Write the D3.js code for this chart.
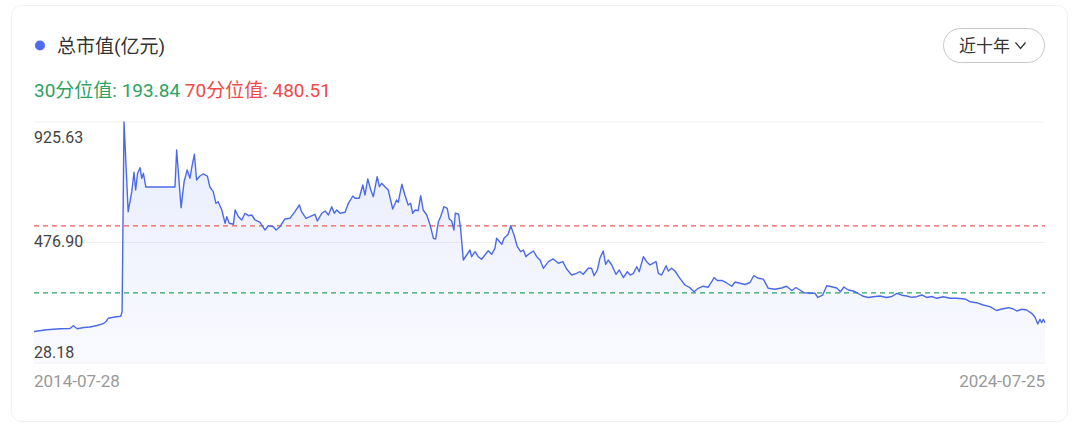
<!DOCTYPE html>
<html>
<head>
<meta charset="utf-8">
<script src="https://cdn.jsdelivr.net/npm/d3@7/dist/d3.min.js"></script>
<style>
  html, body { margin: 0; padding: 0; background: #ffffff; }
  svg { display: block; }
</style>
</head>
<body>
<svg id="chart" width="1080" height="430"></svg>
<script>
// ---------- data ----------
const dates = [
"2014-07-28","2014-09-12","2014-10-30","2014-12-05","2014-12-17","2014-12-31","2015-01-24","2015-02-15","2015-03-12","2015-04-04",
"2015-04-14","2015-04-22","2015-05-16","2015-06-06","2015-06-11","2015-06-18","2015-07-03","2015-07-16","2015-07-24","2015-07-30",
"2015-08-06","2015-08-15","2015-08-21","2015-08-27","2015-09-05","2015-12-19","2015-12-25","2016-01-10","2016-01-21","2016-02-01",
"2016-02-11","2016-02-17","2016-02-27","2016-03-06","2016-03-18","2016-03-30","2016-04-14","2016-04-23","2016-05-05","2016-05-15",
"2016-05-23","2016-06-05","2016-06-17","2016-06-23","2016-07-02","2016-07-17","2016-07-23","2016-08-04","2016-08-16","2016-08-28",
"2016-09-09","2016-09-21","2016-10-03","2016-10-21","2016-11-08","2016-11-20","2016-12-08","2016-12-18","2017-01-01","2017-01-19",
"2017-02-06","2017-02-24","2017-03-12","2017-03-20","2017-04-05","2017-04-19","2017-05-07","2017-05-16","2017-06-01","2017-06-13",
"2017-06-25","2017-07-07","2017-07-16","2017-07-25","2017-08-06","2017-08-24","2017-09-05","2017-09-21","2017-09-29","2017-10-14",
"2017-10-27","2017-11-04","2017-11-14","2017-11-25","2017-12-04","2017-12-18","2017-12-26","2018-01-03","2018-01-15","2018-01-27",
"2018-02-12","2018-02-26","2018-03-04","2018-03-17","2018-03-28","2018-04-09","2018-04-18","2018-04-25","2018-05-04","2018-05-15",
"2018-05-24","2018-06-02","2018-06-15","2018-06-27","2018-07-09","2018-07-17","2018-07-27","2018-08-04","2018-08-16","2018-08-28",
"2018-09-04","2018-09-13","2018-09-21","2018-09-26","2018-10-08","2018-10-15","2018-10-25","2018-11-06","2018-11-18","2018-11-24",
"2018-12-06","2018-12-18","2018-12-30","2019-01-11","2019-01-23","2019-02-04","2019-02-16","2019-02-22","2019-03-13","2019-03-21",
"2019-04-05","2019-04-14","2019-04-26","2019-05-08","2019-05-20","2019-05-30","2019-06-08","2019-06-17","2019-07-05","2019-07-17",
"2019-07-29","2019-08-10","2019-08-28","2019-09-15","2019-10-03","2019-10-19","2019-11-02","2019-11-20","2019-12-08","2019-12-20",
"2020-01-01","2020-01-19","2020-01-31","2020-02-09","2020-02-21","2020-03-01","2020-03-13","2020-03-22","2020-03-31","2020-04-13",
"2020-04-28","2020-05-10","2020-05-25","2020-06-08","2020-06-18","2020-06-30","2020-07-12","2020-07-21","2020-08-05","2020-08-17",
"2020-08-29","2020-09-08","2020-09-20","2020-09-28","2020-10-10","2020-10-26","2020-11-03","2020-11-15","2020-11-27","2020-12-15",
"2021-01-02","2021-01-20","2021-02-04","2021-02-19","2021-03-09","2021-03-27","2021-04-09","2021-04-17","2021-04-29","2021-05-15",
"2021-06-02","2021-06-20","2021-07-02","2021-07-20","2021-08-07","2021-08-25","2021-09-08","2021-09-24","2021-10-12","2021-10-30",
"2021-11-23","2021-12-17","2022-01-04","2022-01-23","2022-02-07","2022-02-21","2022-03-08","2022-03-30","2022-04-17","2022-04-27",
"2022-05-14","2022-05-29","2022-06-16","2022-07-04","2022-07-18","2022-07-30","2022-08-15","2022-09-02","2022-09-20","2022-10-08",
"2022-10-26","2022-11-13","2022-12-07","2022-12-31","2023-01-19","2023-02-06","2023-02-24","2023-03-14","2023-04-01","2023-04-19",
"2023-05-07","2023-05-25","2023-06-12","2023-06-30","2023-07-24","2023-08-17","2023-09-10","2023-10-10","2023-10-28","2023-11-21",
"2023-12-15","2024-01-08","2024-02-01","2024-02-20","2024-03-15","2024-04-02","2024-04-14","2024-05-02","2024-05-20","2024-06-07",
"2024-06-19","2024-06-29","2024-07-07","2024-07-13","2024-07-19","2024-07-25"
];
const marketCap = [
28.18,36,40,41,53,40.5,45.6,47.8,54.2,61.9,
71.3,85,90.6,93.6,113.3,925.63,541.5,627.2,710.2,634.4,
706,729.9,684.5,706,647,647,805.7,558.6,670,720.1,
684.5,727.4,787.3,677.3,694.4,703,694,647.3,627.2,577.5,
584.3,548.8,491.8,520.1,491.8,487.6,548.8,520.1,506,534.7,
524.4,527.4,506,496.1,463.1,481.6,477.3,463.1,477.3,510.3,
513.2,541.5,570.2,541.5,513.2,520.1,530.4,501.7,534.7,544.5,
527.4,562.9,534.7,548.8,534.7,538.9,577.5,608.7,598.9,598.9,
655.8,613,681.5,634.4,605.8,691.4,648.6,663.1,648.6,634.4,
553.1,591.6,581.8,658.9,613,570.2,577.5,534.7,548.8,545.8,
610,548.8,527.4,484.6,427.6,424.6,498.7,520.1,562.9,556.1,
510.3,501.7,463.1,534.7,530.4,470.4,334.7,356.1,377.5,348.8,
370.2,348.8,337.7,356.1,374.5,359.1,384.8,427.6,401.9,427.6,
444.7,481.6,441.7,391.6,370.2,377.5,348.8,359.1,373.2,348.8,
334.7,299.1,327.4,339,320.6,327.4,296.1,270.4,277.7,284.6,
273.4,299.1,299.1,267.4,291.9,342,373.2,316.3,334.7,313.3,
273.4,291.9,258.9,284.6,270.4,277.7,306,284.6,348.8,327.4,
313.3,320.6,327.4,277.7,270.4,310.3,287.6,299.1,287.6,256.3,
227.6,216.1,198.9,213.5,222.5,218.2,241.7,259.7,246.9,246.9,
236.2,222.1,240.5,234.9,229.8,238.3,268.3,256.3,252.5,213.5,
209.6,214.8,222.1,204.1,216.9,206.2,194.6,192.1,192.1,174.1,
183.9,224.6,220.3,214.8,198.9,219.1,206.2,201.9,191.2,179.2,
174.1,177.5,180.5,174.1,178.4,192.1,183.9,180.5,174.9,177.5,
184.8,174.1,178.4,170.7,177.5,170.7,170.7,167.7,156.1,151.8,
142,134.7,118.4,124.8,130.4,124.8,116.3,123.6,120.6,106.4,
89.3,60.6,80.7,66.2,80.7,66.2
];
const seriesName = "总市值(亿元)";
const p30 = 193.84;
const p70 = 480.51;
const yTickLabels = ["925.63", "476.90", "28.18"];
const xTickLabels = ["2014-07-28", "2024-07-25"];
const rangeLabel = "近十年";

// ---------- setup ----------
const parse = d3.timeParse("%Y-%m-%d");
const data = dates.map((d, i) => ({ date: parse(d), value: marketCap[i] }));

const svg = d3.select("#chart");
const FONT = "Roboto, 'Noto Sans CJK SC', sans-serif";

// card
svg.append("rect")
  .attr("x", 11.5).attr("y", 5.5).attr("width", 1056).attr("height", 416)
  .attr("rx", 10).attr("ry", 10)
  .attr("fill", "#ffffff").attr("stroke", "#f0f0f2").attr("stroke-width", 1);

const plotL = 34, plotR = 1045, plotT = 122, plotB = 363;

const vMin = d3.min(marketCap), vMax = d3.max(marketCap);
const x = d3.scaleTime()
  .domain([parse(xTickLabels[0]), parse(xTickLabels[1])])
  .range([plotL, plotR]);
const y = d3.scaleLinear()
  .domain([vMin - (vMax - vMin) * 0.15, vMax])
  .range([plotB, plotT]);

// legend
svg.append("circle").attr("cx", 40).attr("cy", 45.5).attr("r", 5).attr("fill", "#4b6cf0");
svg.append("text").attr("x", 57).attr("y", 52.5)
  .attr("font-family", FONT).attr("font-size", 19).attr("fill", "#333")
  .text(seriesName);

// percentile text
const pt = svg.append("text").attr("x", 34).attr("y", 96.5)
  .attr("font-family", FONT).attr("font-size", 19);
pt.append("tspan").attr("fill", "#2ea363").text("30分位值: " + p30.toFixed(2));
pt.append("tspan").attr("fill", "#f04a4a").text(" 70分位值: " + p70.toFixed(2));

// range button
svg.append("rect").attr("x", 943.5).attr("y", 28.5).attr("width", 101).attr("height", 34)
  .attr("rx", 17).attr("fill", "#fff").attr("stroke", "#c8c8cc");
svg.append("text").attr("x", 959).attr("y", 51.5)
  .attr("font-family", FONT).attr("font-size", 17).attr("fill", "#333")
  .text(rangeLabel);
svg.append("path").attr("d", "M1015.5,42.5 L1020.5,48.5 L1025.5,42.5")
  .attr("fill", "none").attr("stroke", "#333").attr("stroke-width", 1.3);

// gridlines
const d0 = y.domain();
const gridVals = [d0[1], (d0[0] + d0[1]) / 2, d0[0]];
svg.append("g").selectAll("line").data(gridVals).join("line")
  .attr("x1", plotL).attr("x2", plotR)
  .attr("y1", d => y(d)).attr("y2", d => y(d))
  .attr("stroke", "#f0f0f2").attr("stroke-width", 1);

// gradient
const defs = svg.append("defs");
const grad = defs.append("linearGradient").attr("id", "areaGrad")
  .attr("x1", 0).attr("y1", 0).attr("x2", 0).attr("y2", 1);
grad.append("stop").attr("offset", "0%").attr("stop-color", "#4b6cf0").attr("stop-opacity", 0.13);
grad.append("stop").attr("offset", "100%").attr("stop-color", "#4b6cf0").attr("stop-opacity", 0.03);

// area
const area = d3.area().x(d => x(d.date)).y0(plotB).y1(d => y(d.value)).curve(d3.curveLinear);
svg.append("path").datum(data).attr("d", area).attr("fill", "url(#areaGrad)");

// percentile lines
svg.append("line").attr("x1", plotL).attr("x2", plotR)
  .attr("y1", y(p70)).attr("y2", y(p70))
  .attr("stroke", "#f25b5b").attr("stroke-width", 1.2).attr("stroke-dasharray", "5,4");
svg.append("line").attr("x1", plotL).attr("x2", plotR)
  .attr("y1", y(p30)).attr("y2", y(p30))
  .attr("stroke", "#2ea36a").attr("stroke-width", 1.2).attr("stroke-dasharray", "5,4");

// line
const line = d3.line().x(d => x(d.date)).y(d => y(d.value));
svg.append("path").datum(data).attr("d", line)
  .attr("fill", "none").attr("stroke", "#4b6ae8").attr("stroke-width", 1.4)
  .attr("stroke-linejoin", "round");

// y labels
const yLab = svg.append("g").attr("font-family", FONT).attr("font-size", 16).attr("fill", "#444");
yLab.append("text").attr("x", plotL).attr("y", y(gridVals[0]) + 21).text(yTickLabels[0]);
yLab.append("text").attr("x", plotL).attr("y", y(gridVals[1]) + 4.5).text(yTickLabels[1]);
yLab.append("text").attr("x", plotL).attr("y", y(gridVals[2]) - 5).text(yTickLabels[2]);

// x labels
const xLab = svg.append("g").attr("font-family", FONT).attr("font-size", 17).attr("fill", "#999");
xLab.append("text").attr("x", x(parse(xTickLabels[0]))).attr("y", 387).text(xTickLabels[0]);
xLab.append("text").attr("x", x(parse(xTickLabels[1]))).attr("y", 387)
  .attr("text-anchor", "end").text(xTickLabels[1]);
</script>
</body>
</html>
